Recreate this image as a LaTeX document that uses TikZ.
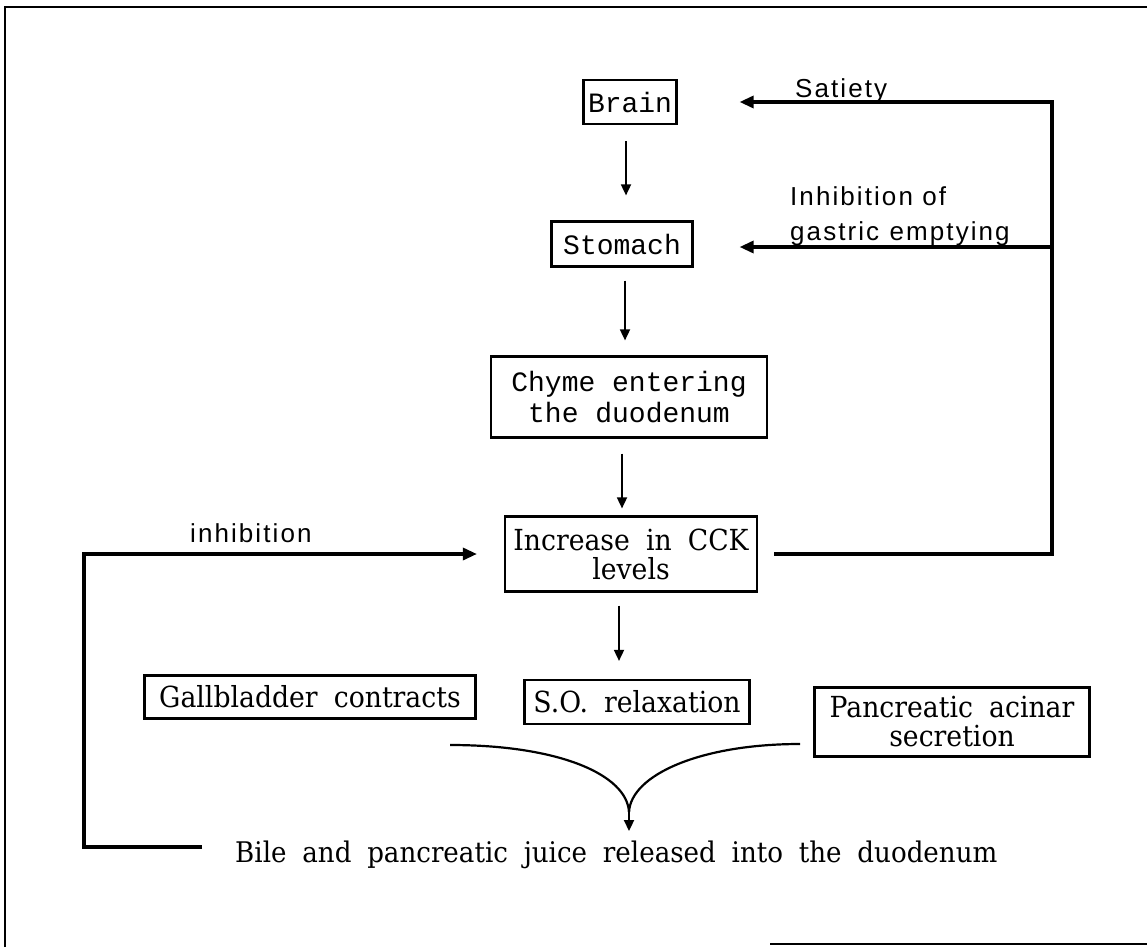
\documentclass[tikz,border=0pt]{standalone}
\usepackage{fontspec}
\usetikzlibrary{arrows.meta,calc}
\newfontfamily\typfont{Liberation Mono}
\newfontfamily\slabfont[FakeStretch=0.92,WordSpace=1.9]{DejaVu Serif}
\newfontfamily\labfont[LetterSpace=8]{Liberation Sans}
\begin{document}
\begin{tikzpicture}[x=1pt,y=-1pt,
 box/.style={draw, line width=2.2pt, inner sep=0pt, align=center},
 typ/.style={font=\typfont\fontsize{28}{31}\selectfont},
 slab/.style={font=\slabfont\fontsize{29}{29}\selectfont},
 lab/.style={font=\labfont\fontsize{26}{28}\selectfont, inner sep=0pt, anchor=base west},
 arr/.style={line width=1.7pt, -{Triangle[length=11pt,width=10pt]}},
 looparr/.style={line width=3.2pt, -{Triangle[length=14pt,width=12pt]}}]
\useasboundingbox (0,0) rectangle (1147,947);
% frame
\draw[line width=2.4pt] (5,947) -- (5,7) -- (1147,7);
\draw[line width=2.4pt] (770,944) -- (1147,944);
% boxes
\node[box,typ,minimum width=93pt,minimum height=44pt] (brain) at (630,102) {Brain};
\node[box,typ,minimum width=141pt,minimum height=45pt] (stomach) at (622,244) {Stomach};
\node[box,typ,minimum width=276pt,minimum height=81pt] (chyme) at (629,397) {Chyme entering\\the duodenum};
\node[box,slab,minimum width=252pt,minimum height=75pt] (cck) at (631,554) {Increase in CCK\\levels};
\node[box,slab,minimum width=331pt,minimum height=43pt] (gall) at (310,697) {Gallbladder contracts};
\node[box,slab,minimum width=225pt,minimum height=44pt] (so) at (637,702) {S.O. relaxation};
\node[box,slab,minimum width=275pt,minimum height=69pt] (panc) at (952,722) {Pancreatic acinar\\secretion};
\node[slab,font=\slabfont\fontsize{28.4}{29}\selectfont,inner sep=0pt,anchor=base west] (final) at (235,862) {Bile and pancreatic juice released into the duodenum};
% labels
\node[lab] (satiety) at (795,98) {Satiety};
\node[lab] (inh1) at (790,205) {Inhibition of};
\node[lab] (inh2) at (790,240) {gastric\hspace{0.4em}emptying};
\node[lab] (inhib) at (190,542) {inhibition};
% vertical arrows
\draw[arr, shorten <=16pt, shorten >=25pt] ([xshift=-4pt]brain.south) -- ([xshift=-4pt]brain.south |- stomach.north);
\draw[arr, shorten <=13pt, shorten >=15pt] ([xshift=3pt]stomach.south) -- ([xshift=3pt]stomach.south |- chyme.north);
\draw[arr, shorten <=15pt, shorten >=7pt] ([xshift=-7pt]chyme.south) -- ([xshift=-7pt]chyme.south |- cck.north);
\draw[arr, shorten <=13pt, shorten >=18pt] ([xshift=-12pt]cck.south) -- ([xshift=-12pt]cck.south |- so.north);
% right feedback loop
\coordinate (r) at (1052,557);
\draw[looparr, shorten <=16pt, shorten >=62pt] (cck.east) -- (cck.east -| r) -- (brain.east -| r) -- (brain.east);
\draw[looparr, shorten >=46pt] ([yshift=-3pt]stomach.east -| r) -- ([yshift=-3pt]stomach.east);
% left inhibition loop
\coordinate (b1) at (202,847);
\coordinate (l1) at (84,847);
\draw[looparr, shorten >=27pt] (b1) -- (l1) -- (l1 |- cck.west) -- (cck.west);
% converging curve
\coordinate (cl) at (450,745);
\coordinate (cr) at (800,744);
\coordinate (cm) at (629,812);
\coordinate (tip) at (629,831);
\draw[line width=2.2pt] (cl) .. controls (560,745) and (627,775) .. (cm);
\draw[line width=2.2pt] (cr) .. controls (700,744) and (631,775) .. (cm);
\draw[arr, line width=2.2pt] (cm) -- (tip);
\end{tikzpicture}
\end{document}
